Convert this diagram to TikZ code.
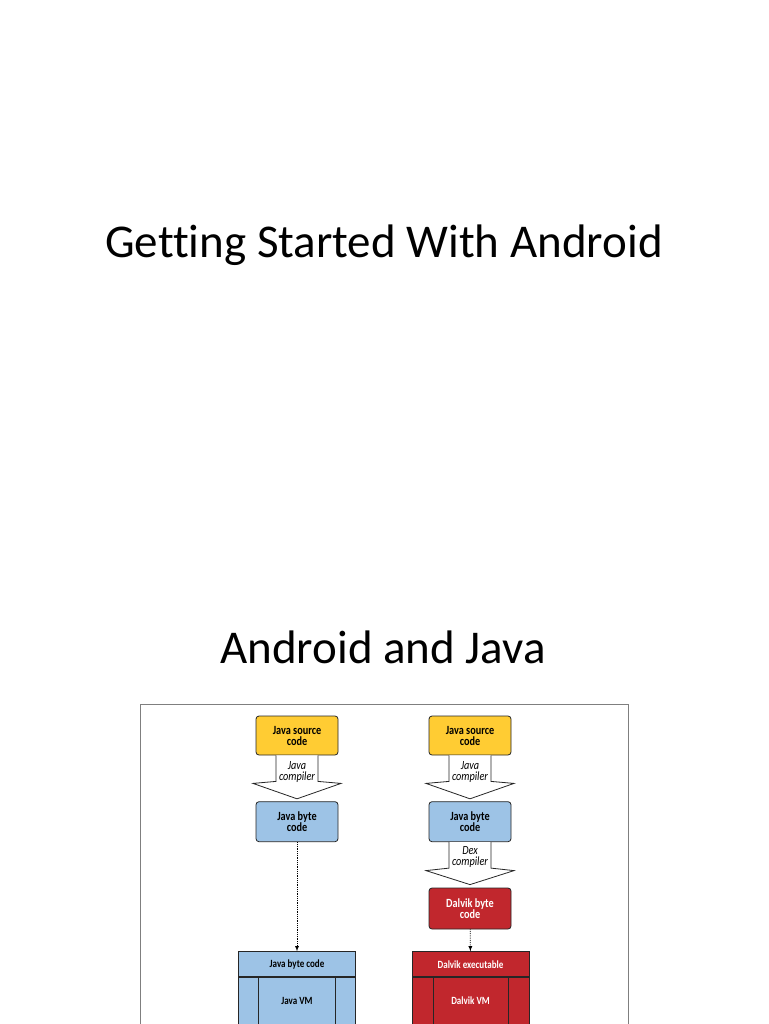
\documentclass[tikz,border=0pt]{standalone}
\usepackage{fontspec}
\setmainfont[Ligatures={NoCommon}]{Carlito}
\newfontfamily\boxfont[FakeStretch=0.82]{Carlito}
\usetikzlibrary{calc}
\definecolor{srcyellow}{HTML}{FFCC33}
\definecolor{jbcblue}{HTML}{9DC3E6}
\definecolor{dalvikred}{HTML}{C1272D}
\definecolor{framegray}{HTML}{7F7F7F}
\begin{document}
\begin{tikzpicture}[
        x=1pt, y=-1pt,
        title/.style={font=\fontsize{47}{56}\selectfont, anchor=base},
        codebox/.style={draw=black!85, rounded corners=3pt, thick, minimum width=82pt, minimum height=40pt, align=center, inner sep=1pt, font=\boxfont\bfseries\fontsize{12.5}{11}\selectfont},
        vmhead/.style={draw=black!85, thick, minimum width=117pt, minimum height=25pt, font=\boxfont\bfseries\fontsize{11}{12}\selectfont},
        vmbody/.style={draw=black!85, thick, minimum width=117pt, minimum height=60pt, anchor=north},
        vmlabel/.style={font=\boxfont\bfseries\fontsize{11}{12}\selectfont},
        hollow/.style={draw=black!85, fill=white, thick},
        steplabel/.style={font=\boxfont\itshape\fontsize{12.5}{10.5}\selectfont, align=center},
        dotarrow/.style={draw, densely dotted, thick, -latex},
    ]
    \clip (0,0) rectangle (768,1024);
    \fill[white] (0,0) rectangle (768,1024);

    \node[title] (t1) at (384,258) {Getting Started With Android};
    \node[title] (t2) at (383,663) {Android and Java};

    \draw[framegray, line width=1pt] (140,1040) -- (140,704) -- (628,704) -- (628,1040);

    % left column: java
    \node[codebox, fill=srcyellow, minimum height=39pt](src1) at (297,735.5) {Java source\\code};
    \node[codebox, fill=jbcblue](jbc1) at (297,821.7) {Java byte\\code};
    \node[vmhead, fill=jbcblue](exe1) at (297,964.2) {Java byte code};
    \node[vmbody, fill=jbcblue](vm1) at (exe1.south) {};
    \node[vmlabel](vmtxt1) at (297,1001) {Java VM};
    \draw[thick, black!85] ($(vm1.north west)+(20.3,0)$) -- ($(vm1.south west)+(20.3,0)$)
        ($(vm1.north east)+(-20.3,0)$) -- ($(vm1.south east)+(-20.3,0)$);

    \draw[hollow] ($(src1.south)+(-21,0)$) -- ++(0,26) -- ++(-23,2) -- ($(jbc1.north)+(0,-2.5)$)
        -- ($(src1.south)+(44,28)$) -- ++(-23,-2) -- ($(src1.south)+(21,0)$);
    \node[steplabel](jc1) at (297,772) {Java\\compiler};
    \draw[dotarrow] (jbc1) -- (exe1);

    % right column: dalvik
    \node[codebox, fill=srcyellow, minimum height=39pt](src2) at (470,735.5) {Java source\\code};
    \node[codebox, fill=jbcblue](jbc2) at (470,821.7) {Java byte\\code};
    \node[codebox, fill=dalvikred, text=white, minimum height=41pt](dbc) at (470,908.5) {Dalvik byte\\code};
    \node[vmhead, fill=dalvikred, text=white](exe2) at (470.5,964.2) {Dalvik executable};
    \node[vmbody, fill=dalvikred](vm2) at (exe2.south) {};
    \node[vmlabel, text=white](vmtxt2) at (470.5,1001) {Dalvik VM};
    \draw[thick, black!85] ($(vm2.north west)+(21.6,0)$) -- ($(vm2.south west)+(21.6,0)$)
        ($(vm2.north east)+(-21.2,0)$) -- ($(vm2.south east)+(-21.2,0)$);

    \draw[hollow] ($(src2.south)+(-21,0)$) -- ++(0,26) -- ++(-23,2) -- ($(jbc2.north)+(0,-2.5)$)
        -- ($(src2.south)+(44,28)$) -- ++(-23,-2) -- ($(src2.south)+(21,0)$);
    \node[steplabel](jc2) at (470,772) {Java\\compiler};
    \draw[hollow] ($(jbc2.south)+(-21,0)$) -- ++(0,26) -- ++(-23,2.5) -- ($(dbc.north)+(0,-3)$)
        -- ($(jbc2.south)+(44,28.5)$) -- ++(-23,-2.5) -- ($(jbc2.south)+(21,0)$);
    \node[steplabel](dx) at (470,857) {Dex\\compiler};
    \draw[dotarrow] (dbc) -- (exe2);
\end{tikzpicture}
\end{document}
